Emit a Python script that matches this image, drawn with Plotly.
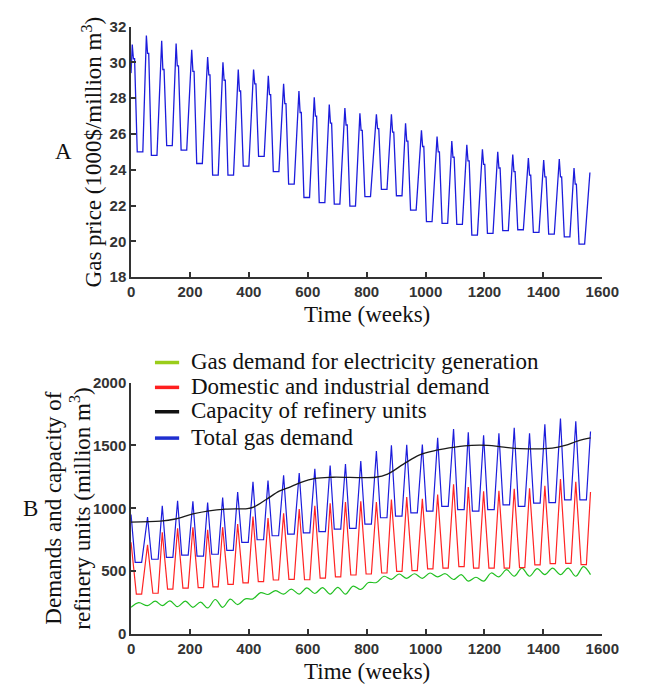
import plotly.graph_objects as go

# ---------------- Panel A : gas price (1000$/million m3) ----------------
PRICE_START = 29.4
PRICE_PEAK_WEEK = [4, 52, 104, 153, 206, 260, 312, 364, 416, 466, 518, 570, 622, 673, 726,
                   777, 833, 884, 932, 986, 1039, 1089, 1140, 1193, 1245, 1296, 1349, 1401, 1454, 1504]
PRICE_PEAK = [31.0, 31.5, 31.2, 31.05, 30.7, 30.3, 30.0, 29.6, 29.6, 29.25, 28.8, 28.4, 28.05, 27.65, 27.45,
              27.15, 27.1, 27.1, 26.6, 26.2, 25.85, 25.6, 25.4, 25.15, 25.0, 24.85, 24.65, 24.55, 24.6, 24.1]
PRICE_SECOND = [30.2, 30.5, 29.6, 29.8, 29.5, 29.3, 29.0, 28.4, 28.8, 28.2, 27.7, 27.2, 27.0, 26.6, 26.5,
                26.2, 26.3, 26.1, 25.6, 25.3, 25.0, 24.7, 24.5, 24.3, 24.1, 23.9, 23.7, 23.6, 23.6, 23.2]
PRICE_TROUGH = [25.0, 24.8, 25.35, 25.1, 24.35, 23.7, 23.7, 24.2, 24.75, 23.9, 23.2, 22.45, 22.17, 22.08, 21.97,
                22.5, 22.9, 22.55, 21.75, 21.1, 21.0, 20.95, 20.35, 20.45, 20.6, 20.65, 20.5, 20.4, 20.25, 19.85]
PRICE_END_WEEK = 1558
PRICE_END = 23.85

# ---------------- Panel B : demands and capacity (million m3) ----------------
DEMAND_PEAK_WEEK = [0, 56, 106, 158, 210, 260, 311, 362, 414, 465, 518, 571, 624, 676, 728,
                    780, 833, 884, 936, 989, 1041, 1095, 1145, 1197, 1249, 1301, 1353, 1405, 1458, 1510]
TOTAL_PEAK = [950, 930, 1020, 1059, 1055, 1046, 1085, 1130, 1210, 1220, 1262, 1280, 1315, 1340, 1352,
              1375, 1455, 1500, 1505, 1506, 1560, 1630, 1604, 1580, 1597, 1640, 1597, 1667, 1713, 1692]
TOTAL_TROUGH = [570, 595, 610, 628, 620, 635, 665, 730, 750, 782, 795, 805, 815, 835, 840,
                874, 925, 938, 964, 977, 1016, 990, 977, 990, 1028, 1016, 1041, 1046, 1067, 1067]
TOTAL_END = 1610
DOM_PEAK = [730, 710, 810, 842, 850, 830, 850, 875, 935, 922, 960, 995, 1020, 1040, 1050,
            1055, 1050, 1070, 1090, 1075, 1110, 1190, 1170, 1135, 1140, 1155, 1160, 1180, 1232, 1210]
DOM_TROUGH = [318, 325, 358, 366, 370, 375, 395, 408, 418, 430, 435, 432, 445, 455, 470,
              478, 486, 498, 504, 519, 525, 537, 525, 525, 525, 528, 550, 560, 563, 552]
DOM_END = 1130
ELEC_WINTER = [213, 226, 226, 218, 213, 208, 213, 235, 280, 315, 318, 318, 323, 318, 318,
               355, 410, 435, 443, 443, 455, 434, 421, 421, 455, 460, 460, 473, 473, 460]
ELEC_SUMMER = [250, 262, 264, 262, 255, 275, 278, 280, 330, 345, 357, 368, 370, 372, 382,
               410, 460, 478, 480, 486, 480, 473, 452, 486, 512, 525, 520, 525, 525, 537]
ELEC_END = 473
DEMAND_END_WEEK = 1560
CAP_WEEK = [0, 100, 150, 210, 265, 320, 395, 416, 460, 503, 535, 575, 625, 685, 830, 871, 925, 980,
            1034, 1100, 1156, 1211, 1266, 1320, 1430, 1474, 1518, 1560]
CAP_VALUE = [890, 898, 915, 955, 980, 993, 998, 1010, 1072, 1136, 1165, 1205, 1238, 1247, 1247, 1272, 1351, 1425,
             1460, 1486, 1500, 1500, 1486, 1475, 1478, 1500, 1537, 1560]

LEGEND_NAMES = ["Gas demand for electricity generation", "Domestic and industrial demand",
                "Capacity of refinery units", "Total gas demand"]
LEGEND_COLORS = ["#9acd1a", "#ff1f1f", "#111111", "#1f2fd0"]

# ---------------- build series ----------------
px_, py_ = [0], [PRICE_START]
for w, pk, sc, tr in zip(PRICE_PEAK_WEEK, PRICE_PEAK, PRICE_SECOND, PRICE_TROUGH):
    px_ += [w, w + 4, w + 8, w + 17, w + 36]
    py_ += [pk, sc, sc, tr, tr]
px_.append(PRICE_END_WEEK); py_.append(PRICE_END)

tx, ty, dx, dy, ex, ey = [], [], [], [], [], []
for w, tp, tt, dp, dt, ew, es in zip(DEMAND_PEAK_WEEK, TOTAL_PEAK, TOTAL_TROUGH, DOM_PEAK,
                                     DOM_TROUGH, ELEC_WINTER, ELEC_SUMMER):
    tx += [w, w + 14, w + 36]; ty += [tp, tt, tt]
    dx += [w, w + 18, w + 36]; dy += [dp, dt, dt]
    ex += [w, w + 26]; ey += [ew, es]
tx.append(DEMAND_END_WEEK); ty.append(TOTAL_END)
dx.append(DEMAND_END_WEEK); dy.append(DOM_END)
ex.append(DEMAND_END_WEEK); ey.append(ELEC_END)

BLUE = "#1c1cdc"
RED = "#ff2424"
GREEN = "#22c022"
BLACK = "#1a1a1a"

fig = go.Figure()
fig.add_trace(go.Scatter(x=px_, y=py_, mode="lines", line=dict(color=BLUE, width=1.3),
                         xaxis="x", yaxis="y", showlegend=False))
fig.add_trace(go.Scatter(x=ex, y=ey, mode="lines", line=dict(color=GREEN, width=1.2, shape="spline"),
                         xaxis="x2", yaxis="y2", showlegend=False))
fig.add_trace(go.Scatter(x=dx, y=dy, mode="lines", line=dict(color=RED, width=1.2),
                         xaxis="x2", yaxis="y2", showlegend=False))
fig.add_trace(go.Scatter(x=tx, y=ty, mode="lines", line=dict(color=BLUE, width=1.2),
                         xaxis="x2", yaxis="y2", showlegend=False))
fig.add_trace(go.Scatter(x=CAP_WEEK, y=CAP_VALUE, mode="lines",
                         line=dict(color=BLACK, width=1.3, shape="spline"),
                         xaxis="x2", yaxis="y2", showlegend=False))

tickfont = dict(family="Liberation Sans, Arial", size=15, color="#333333", weight="bold")
axis_common = dict(showline=True, linecolor="#333333", linewidth=1.5, ticks="inside", ticklen=5,
                   tickcolor="#333333", tickwidth=1.5, showgrid=False, zeroline=False,
                   tickfont=tickfont, mirror=False)
XDOM = [131.3 / 649, 618.3 / 649]

fig.update_layout(
    width=649, height=686, margin=dict(l=0, r=0, t=0, b=0),
    paper_bgcolor="white", plot_bgcolor="white", showlegend=False,
    xaxis=dict(domain=XDOM, range=[0, 1600], dtick=200, anchor="y", **axis_common),
    yaxis=dict(domain=[1 - 275 / 686, 1 - 18 / 686], range=[18, 32], dtick=2, anchor="x", **axis_common),
    xaxis2=dict(domain=XDOM, range=[0, 1600], dtick=200, anchor="y2", **axis_common),
    yaxis2=dict(domain=[1 - 641 / 686, 1 - 383 / 686], range=[0, 2000], dtick=500, anchor="x2", **axis_common),
)

serif = dict(family="Liberation Serif, Times New Roman, serif", size=23, color="#111111")
ann = [
    dict(text="Time (weeks)", x=0.5, xref="x domain", y=1 - 313 / 686, yref="paper"),
    dict(text="Time (weeks)", x=0.5, xref="x2 domain", y=1 - 679 / 686, yref="paper"),
    dict(text="Gas price (1000$/million m<sup>3</sup>)", x=91 / 649, y=1 - 147 / 686,
         xref="paper", yref="paper", textangle=-90),
    dict(text="Demands and capacity of", x=51 / 649,
         y=1 - 512 / 686, xref="paper", yref="paper", textangle=-90),
    dict(text="refinery units (million m<sup>3</sup>)", x=79 / 649,
         y=1 - 512 / 686, xref="paper", yref="paper", textangle=-90),
    dict(text="A", x=61 / 649, y=1 - 146 / 686, xref="paper", yref="paper"),
    dict(text="B", x=27 / 649, y=1 - 512 / 686, xref="paper", yref="paper"),
]
for a in ann:
    a.update(showarrow=False, font=serif, xanchor="center", yanchor="middle")

# legend (key) drawn inside panel B
LEG_ROWS_Y = [361.5, 387, 412, 439]
shapes = []
for name, col, yy in zip(LEGEND_NAMES, LEGEND_COLORS, LEG_ROWS_Y):
    ann.append(dict(text=name, x=191 / 649, y=1 - yy / 686, xref="paper", yref="paper",
                    showarrow=False, font=serif, xanchor="left", yanchor="middle"))
    shapes.append(dict(type="line", xref="paper", yref="paper", x0=156 / 649, x1=181 / 649,
                       y0=1 - (yy + 1) / 686, y1=1 - (yy + 1) / 686, line=dict(color=col, width=3.5)))

fig.update_layout(annotations=ann, shapes=shapes)

fig.write_html("out.html")
